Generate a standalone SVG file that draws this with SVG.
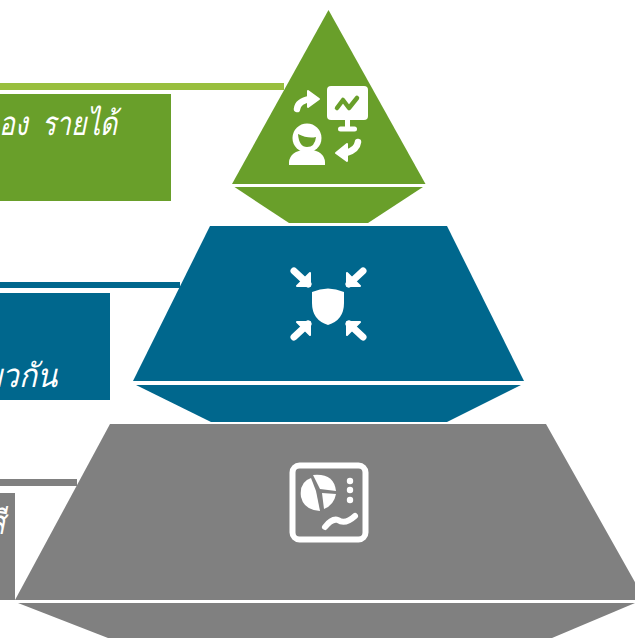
<svg xmlns="http://www.w3.org/2000/svg" width="635" height="638" viewBox="0 0 635 638">
<style>
.g{fill:#699f2a}.b{fill:#00678d}.k{fill:#808080}
.lbl{fill:#fff;font-family:"Noto Sans","Liberation Sans",sans-serif;font-style:italic;font-size:33px;text-anchor:end}
.w{fill:#fff}.s{fill:none;stroke:#fff;stroke-linecap:round;stroke-linejoin:round}
.h{fill:#fff;stroke:#fff;stroke-width:2;stroke-linejoin:round}
</style>
<rect width="635" height="638" fill="#fff"/>
<g id="connectors">
<rect x="0" y="83" width="284" height="7" fill="#99bf3e"/>
<rect x="0" y="282" width="180" height="6" fill="#00678d"/>
<rect x="0" y="479" width="77" height="7" fill="#808080"/>
</g>
<g id="label-top">
<rect class="g" x="0" y="94" width="171" height="107"/>
<text class="lbl" transform="translate(117 135) scale(.8 1)" word-spacing="9">อง รายได้</text>
</g>
<g id="label-middle">
<rect class="b" x="0" y="293" width="110" height="107"/>
<text class="lbl" transform="translate(57 387) scale(.9 1)">ยวกัน</text>
</g>
<g id="label-bottom">
<rect class="k" x="0" y="493" width="15" height="107"/>
<text class="lbl" transform="translate(5 534) scale(.8 1)">สี</text>
</g>
<g id="tier-top">
<polygon class="g" points="328.500,10 425.500,184 232,184"/>
<polygon class="g" points="234.500,187 423,187 368,223 289,223"/>
<path class="s" stroke-width="6.500" d="M297 109Q298 101 310 99"/>
<polygon class="h" points="308,91 319,99 308,107"/>
<rect class="w" x="327" y="86" width="41" height="34" rx="4"/>
<path d="M337 108L343 100L349 108L357 98" fill="none" stroke="#699f2a" stroke-width="4.500" stroke-linecap="round" stroke-linejoin="round"/>
<rect class="w" x="345" y="120" width="5" height="9"/>
<rect class="w" x="338" y="126.500" width="19" height="5" rx="2.500"/>
<circle class="w" cx="307" cy="138" r="14.500"/>
<path class="g" d="M298 134Q308 139 316 137Q315 147 307 147Q299 147 298 134Z"/>
<path class="w" d="M289 165Q288 153 302 150L313 150Q326 153 325 165Z"/>
<path class="s" stroke-width="6.500" d="M358 142Q357 150 346 153"/>
<polygon class="h" points="347,144 336,153 347,161"/>
</g>
<g id="tier-middle">
<polygon class="b" points="210,226 447,226 524,381 133,381"/>
<polygon class="b" points="136,385 521,385 447,422 211,422"/>
<path class="w" d="M312 292Q328 285 344 292V303Q344 320 328 325Q312 320 312 303Z"/>
<g class="s" stroke-width="7">
<path d="M294 271L308 284"/><path d="M363 271L349 284"/><path d="M294 337L308 324"/><path d="M363 337L349 324"/>
</g>
<polygon class="h" points="310,273 310,286 297,286"/>
<polygon class="h" points="347,273 347,286 360,286"/>
<polygon class="h" points="310,335 310,322 297,322"/>
<polygon class="h" points="347,335 347,322 360,322"/>
</g>
<g id="tier-bottom">
<polygon class="k" points="110,424 546,424 645,600 15,600"/>
<polygon class="k" points="18,603 635,603 552,638 108,638"/>
<rect x="292.500" y="465.500" width="73" height="74" rx="7" fill="none" stroke="#fff" stroke-width="6"/>
<path class="w" d="M311 478Q299 482 301 497Q304 510 320 511L316 491Z"/>
<path class="w" d="M313 475Q334 473 336 491L320 489Z"/>
<path class="w" d="M322 493L336 494Q334 505 324 509Z"/>
<circle class="w" cx="350" cy="481" r="3.200"/><circle class="w" cx="350" cy="490" r="3.200"/><circle class="w" cx="350" cy="500" r="3.200"/>
<path class="s" stroke-width="6" d="M325 527Q332 518 338 520Q345 525 355 516"/>
</g>
</svg>
